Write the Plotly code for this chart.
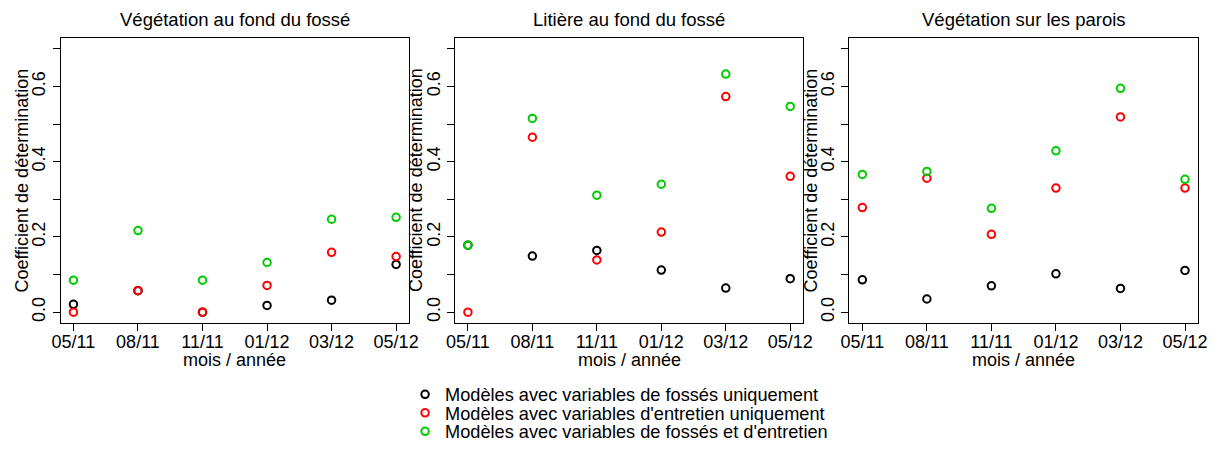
import plotly.graph_objects as go

# Sampling dates (month/year)
months = ["05/11", "08/11", "11/11", "01/12", "03/12", "05/12"]

panel_titles = [
    "Végétation au fond du fossé",
    "Litière au fond du fossé",
    "Végétation sur les parois",
]

series_names = [
    "Modèles avec variables de fossés uniquement",
    "Modèles avec variables d'entretien uniquement",
    "Modèles avec variables de fossés et d'entretien",
]
series_colors = ["#000000", "#FF0000", "#00CD00"]

x_label = "mois / année"
y_label = "Coefficient de détermination"

# Coefficient of determination per panel, per model family
veg_fond_fosses = [0.021, 0.057, 0.000, 0.018, 0.032, 0.127]
veg_fond_entretien = [0.000, 0.057, 0.000, 0.071, 0.159, 0.148]
veg_fond_both = [0.085, 0.217, 0.085, 0.132, 0.247, 0.252]

litiere_fosses = [0.178, 0.149, 0.164, 0.112, 0.064, 0.089]
litiere_entretien = [0.000, 0.465, 0.139, 0.213, 0.573, 0.361]
litiere_both = [0.178, 0.515, 0.311, 0.340, 0.633, 0.547]

parois_fosses = [0.086, 0.035, 0.070, 0.102, 0.063, 0.111]
parois_entretien = [0.278, 0.356, 0.207, 0.330, 0.519, 0.330]
parois_both = [0.366, 0.374, 0.276, 0.429, 0.595, 0.353]

panels = [
    [veg_fond_fosses, veg_fond_entretien, veg_fond_both],
    [litiere_fosses, litiere_entretien, litiere_both],
    [parois_fosses, parois_entretien, parois_both],
]

y_ticks = [0.0, 0.1, 0.2, 0.3, 0.4, 0.5, 0.6, 0.7]
y_ticktext = ["0.0", "", "0.2", "", "0.4", "", "0.6", ""]

W, H = 1221, 452
FONT = "Liberation Sans, Arial, Helvetica, sans-serif"
FS_TICK = 18
FS_TEXT = 18.5
FS_LEGEND = 18.2

x_domains = [(52.3, 406.0), (452.7, 806.0), (853.0, 1206.7)]
y_top_px, y_bot_px = 38.3, 322.7
y_domain = [1 - y_bot_px / H, 1 - y_top_px / H]

x_pos = list(range(1, len(months) + 1))

fig = go.Figure()
legend_ids = ["legend", "legend2", "legend3"]

for p, series in enumerate(panels):
    ax = "" if p == 0 else str(p + 1)
    for s, values in enumerate(series):
        fig.add_trace(go.Scatter(
            x=x_pos,
            y=values,
            mode="markers",
            name=series_names[s],
            marker=dict(symbol="circle-open", size=7.5,
                        color=series_colors[s],
                        line=dict(width=2, color=series_colors[s])),
            xaxis="x" + ax,
            yaxis="y" + ax,
            showlegend=(p == 0),
            legend=legend_ids[s],
        ))

axis_common = dict(
    showline=True, linecolor="#000000", linewidth=1, mirror=True,
    showgrid=False, zeroline=False,
    ticks="outside", ticklen=7, tickcolor="#000000", tickwidth=1,
    tickfont=dict(family=FONT, size=FS_TICK, color="#000000"),
)

layout = dict(
    width=W, height=H,
    margin=dict(l=0, r=0, t=0, b=0),
    paper_bgcolor="white", plot_bgcolor="white",
    font=dict(family=FONT, size=FS_TEXT, color="#000000"),
    annotations=[],
)

text_font = dict(family=FONT, size=FS_TEXT, color="#000000")
axis_font = dict(family=FONT, size=FS_TICK, color="#000000")
legend_font = dict(family=FONT, size=FS_LEGEND, color="#000000")

for p in range(3):
    ax = "" if p == 0 else str(p + 1)
    x0, x1 = x_domains[p]
    layout["xaxis" + ax] = dict(
        axis_common,
        domain=[x0 / W, x1 / W],
        range=[0.8, 6.2],
        tickvals=x_pos, ticktext=months,
        ticklabelstandoff=-4,
        anchor="y" + ax,
    )
    layout["yaxis" + ax] = dict(
        axis_common,
        domain=y_domain,
        range=[-0.028, 0.728],
        tickvals=y_ticks, ticktext=y_ticktext,
        tickangle=-90,
        anchor="x" + ax,
    )
    # panel title
    layout["annotations"].append(dict(
        text=panel_titles[p], xref="paper", yref="paper",
        x=(x0 + x1) / 2 / W, y=1 - 20 / H,
        xanchor="center", yanchor="middle", showarrow=False,
        font=text_font,
    ))
    # x axis title
    layout["annotations"].append(dict(
        text=x_label, xref="paper", yref="paper",
        x=(x0 + x1) / 2 / W, y=1 - 360 / H,
        xanchor="center", yanchor="middle", showarrow=False,
        font=axis_font,
    ))
    # y axis title
    layout["annotations"].append(dict(
        text=y_label, xref="paper", yref="paper",
        x=(x0 - 40) / W, y=(y_domain[0] + y_domain[1]) / 2,
        xanchor="center", yanchor="middle", showarrow=False,
        textangle=-90, font=axis_font,
    ))

legend_rows = [394.5, 413, 431.5]
for i, lid in enumerate(legend_ids):
    layout[lid] = dict(
        x=402 / W, y=1 - legend_rows[i] / H,
        xanchor="left", yanchor="middle",
        bgcolor="rgba(0,0,0,0)", borderwidth=0,
        font=legend_font,
        itemwidth=30,
    )

fig.update_layout(**layout)
fig.write_html("out.html")
